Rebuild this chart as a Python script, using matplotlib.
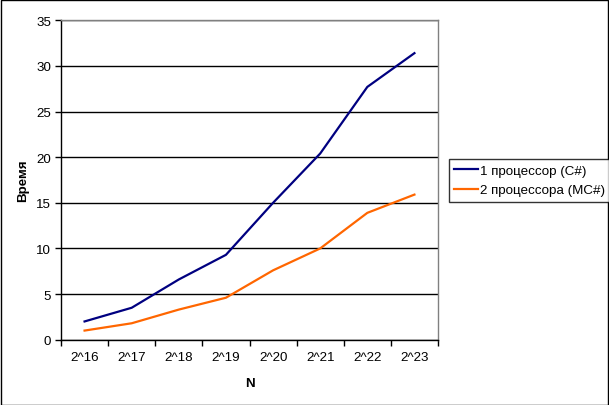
import matplotlib
matplotlib.use("Agg")
import matplotlib.pyplot as plt
from matplotlib.patches import Rectangle

categories = ["2^16", "2^17", "2^18", "2^19", "2^20", "2^21", "2^22", "2^23"]
series1_name = "1 процессор (C#)"
series2_name = "2 процессора (MC#)"
series1 = [2.0, 3.5, 6.6, 9.3, 15.0, 20.4, 27.7, 31.4]
series2 = [1.0, 1.8, 3.3, 4.6, 7.6, 10.0, 13.9, 15.9]
yticks = [0, 5, 10, 15, 20, 25, 30, 35]

plt.rcParams['font.family'] = ['Liberation Sans', 'DejaVu Sans']
FS = 9.6

W, H = 609, 406
fig = plt.figure(figsize=(W / 100, H / 100), dpi=100)
fig.patch.set_facecolor('white')

L, R, T, B = 61, 438, 21.3, 340.7
ax = fig.add_axes([L / W, 1 - B / H, (R - L) / W, (B - T) / H])

x = list(range(len(categories)))
ax.plot(x, series1, color='#000080', lw=1.6, label=series1_name, solid_joinstyle='round')
ax.plot(x, series2, color='#FF6600', lw=1.6, label=series2_name, solid_joinstyle='round')

ax.set_xlim(-0.5, len(categories) - 0.5)
ax.set_ylim(0, 35)
ax.set_yticks(yticks)
ax.set_yticklabels([str(v) for v in yticks], fontsize=FS)
ax.set_xticks(x)
ax.set_xticklabels(categories, fontsize=FS)
ax.tick_params(axis='x', which='major', length=0, pad=8)
ax.set_xticks([i - 0.5 for i in range(len(categories) + 1)], minor=True)
ax.tick_params(axis='x', which='minor', length=4, width=1, color='black', direction='out')
ax.tick_params(axis='y', length=4, width=1, color='black', direction='out', pad=3)

ax.grid(axis='y', color='black', lw=1)
ax.set_axisbelow(True)
for s in ['left', 'bottom']:
    ax.spines[s].set_color('black')
    ax.spines[s].set_linewidth(1)
for s in ['top', 'right']:
    ax.spines[s].set_color('#808080')
    ax.spines[s].set_linewidth(1)

ax.set_ylabel("Время", fontsize=FS, fontweight='bold', labelpad=5)
ax.set_xlabel("N", fontsize=FS, fontweight='bold', labelpad=10)

leg = fig.legend(loc='upper left', bbox_to_anchor=(449 / W, 1 - 160 / H), fontsize=FS,
                 frameon=True, fancybox=False, handlelength=1.75, handletextpad=0.15,
                 borderpad=0.4, labelspacing=0.55, borderaxespad=0)
leg.get_frame().set_edgecolor('black')
leg.get_frame().set_linewidth(1)

fig.patches.append(Rectangle((0.5 / W, 0.5 / H), 1 - 1.5 / W, 1 - 1.5 / H, transform=fig.transFigure,
                             fill=False, edgecolor='black', lw=1))

fig.savefig("out.png", dpi=100)
